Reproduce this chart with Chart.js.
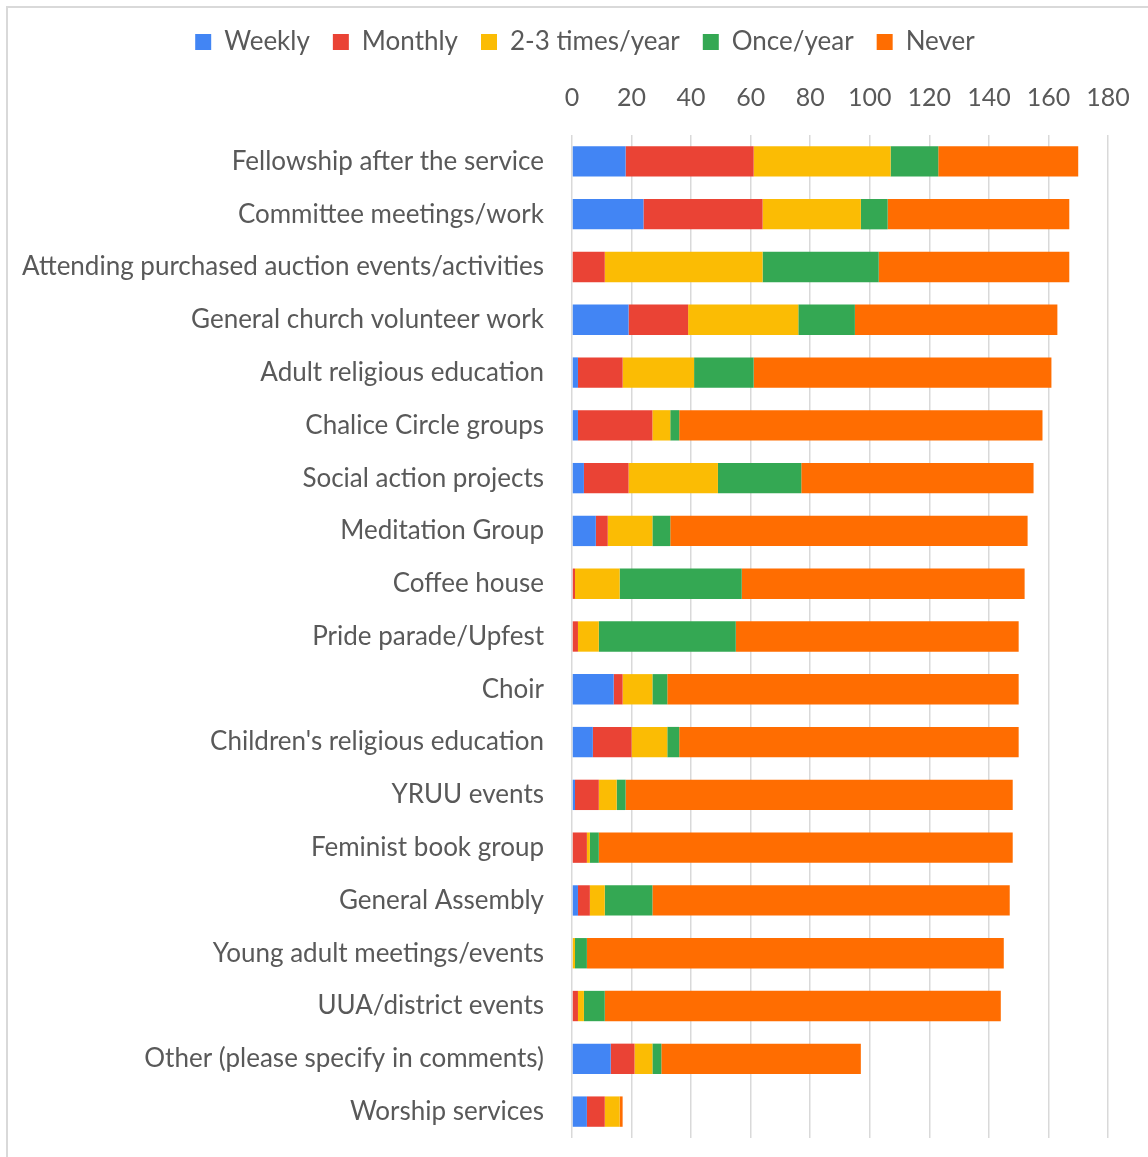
<!DOCTYPE html>
<html>
<head>
<meta charset="utf-8">
<script src="https://cdn.jsdelivr.net/npm/chart.js@4.4.1/dist/chart.umd.min.js"></script>
<style>
  html, body { margin: 0; padding: 0; background: #ffffff; }
  #wrap { position: relative; width: 1148px; height: 1157px; overflow: hidden; background: #fff; }
  #frame { position: absolute; left: 6px; top: 6px; width: 1300px; height: 1300px; border-left: 2px solid #d9d9d9; border-top: 2px solid #d9d9d9; box-sizing: border-box; }
  canvas { position: absolute; left: 0; top: 0; }
</style>
</head>
<body>
<div id="wrap">
  <div id="frame"></div>
  <canvas id="c" width="1148" height="1157"></canvas>
</div>
<script>
const categories = [
  "Fellowship after the service",
  "Committee meetings/work",
  "Attending purchased auction events/activities",
  "General church volunteer work",
  "Adult religious education",
  "Chalice Circle groups",
  "Social action projects",
  "Meditation Group",
  "Coffee house",
  "Pride parade/Upfest",
  "Choir",
  "Children's religious education",
  "YRUU events",
  "Feminist book group",
  "General Assembly",
  "Young adult meetings/events",
  "UUA/district events",
  "Other (please specify in comments)",
  "Worship services"
];
const weekly   = [18, 24,  0, 19,  2,  2,  4,  8,  0,  0, 14,  7,  1,  0,  2,  0,  0, 13, 5];
const monthly  = [43, 40, 11, 20, 15, 25, 15,  4,  1,  2,  3, 13,  8,  5,  4,  0,  2,  8, 6];
const twoThree = [46, 33, 53, 37, 24,  6, 30, 15, 15,  7, 10, 12,  6,  1,  5,  1,  2,  6, 5];
const onceYear = [16,  9, 39, 19, 20,  3, 28,  6, 41, 46,  5,  4,  3,  3, 16,  4,  7,  3, 0];
const never    = [47, 61, 64, 68,100,122, 78,120, 95, 95,118,114,130,139,120,140,133, 67, 1];
const seriesNames = ["Weekly", "Monthly", "2-3 times/year", "Once/year", "Never"];
const xTicks = [0, 20, 40, 60, 80, 100, 120, 140, 160, 180];

const colors = ["#4285F4", "#EA4335", "#FBBC04", "#34A853", "#FF6D01"];
const seriesData = [weekly, monthly, twoThree, onceYear, never];

const FONT = "Lato, 'Open Sans', sans-serif";
const TXT = "#595959";
const PAD_TOP = 6;
const PAD_LEFT = 10;
const LEGEND_SHIFT = 26;

const legendShift = {
  id: "legendShift",
  afterLayout(chart) {
    if (chart.legend) { chart.legend.left += LEGEND_SHIFT; chart.legend.right += LEGEND_SHIFT; }
  }
};

new Chart(document.getElementById("c"), {
  type: "bar",
  data: {
    labels: categories,
    datasets: seriesNames.map((n, i) => ({
      label: n,
      data: seriesData[i],
      backgroundColor: colors[i],
      borderWidth: 0,
      categoryPercentage: 1.0,
      barPercentage: 0.575
    }))
  },
  plugins: [legendShift],
  options: {
    indexAxis: "y",
    responsive: false,
    animation: false,
    devicePixelRatio: 1,
    layout: { padding: { left: PAD_LEFT, right: 40, top: PAD_TOP, bottom: 19 } },
    plugins: {
      legend: {
        position: "top",
        labels: {
          boxWidth: 16, boxHeight: 16, padding: 23,
          color: TXT,
          font: { family: FONT, size: 26 }
        }
      },
      tooltip: { enabled: false }
    },
    scales: {
      x: {
        position: "top",
        stacked: true,
        min: 0, max: 180,
        afterBuildTicks: (s) => { s.ticks = xTicks.map(v => ({ value: v })); },
        afterFit: (s) => {
          const lh = s.chart.legend ? s.chart.legend.height : 0;
          s.height = 135 - PAD_TOP - lh;
          s.paddingLeft = 0; s.paddingRight = 0;
        },
        ticks: { color: TXT, font: { family: FONT, size: 25 }, padding: 22 },
        grid: { color: "#d9d9d9", lineWidth: 1.5, drawTicks: false },
        border: { display: false }
      },
      y: {
        stacked: true,
        afterFit: (s) => { s.width = 572 - PAD_LEFT; s.paddingTop = 0; s.paddingBottom = 0; },
        ticks: { color: TXT, font: { family: FONT, size: 26 }, padding: 28, autoSkip: false },
        grid: { display: false, drawTicks: false },
        border: { display: false }
      }
    }
  }
});
</script>
</body>
</html>
